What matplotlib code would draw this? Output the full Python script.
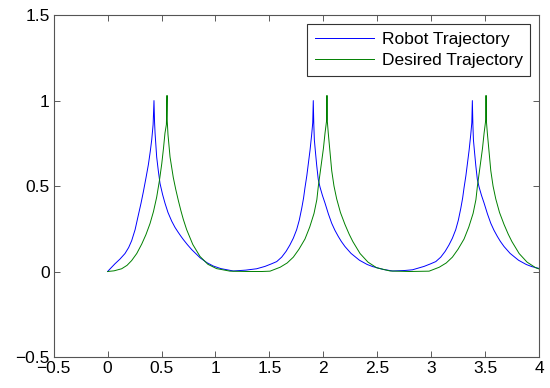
import matplotlib
matplotlib.use("Agg")
import matplotlib.pyplot as plt

plt.rcParams['font.family'] = ['Liberation Sans', 'DejaVu Sans']

# Robot trajectory (blue)
robot_x = [0.000, 0.030, 0.068, 0.115, 0.161, 0.195, 0.223, 0.255, 0.285, 0.310,
           0.331, 0.355, 0.378, 0.395, 0.409, 0.422, 0.430, 0.435, 0.440, 0.455,
           0.470, 0.486, 0.510, 0.532, 0.560, 0.594, 0.625, 0.656, 0.680, 0.702,
           0.740, 0.780, 0.858, 0.920, 0.980, 1.050, 1.166, 1.280, 1.382,
           1.460, 1.520, 1.568, 1.614, 1.655, 1.690, 1.722, 1.753, 1.777, 1.800,
           1.817, 1.830, 1.847, 1.861, 1.877, 1.892, 1.902, 1.907, 1.912, 1.917,
           1.927, 1.939, 1.953, 1.969, 1.992, 2.016, 2.047, 2.078, 2.107, 2.139,
           2.167, 2.201, 2.257, 2.335, 2.407, 2.457, 2.557, 2.643, 2.757, 2.827,
           2.935, 2.995, 3.043, 3.089, 3.130, 3.165, 3.197, 3.228, 3.252, 3.275,
           3.292, 3.305, 3.322, 3.336, 3.352, 3.367, 3.377, 3.382, 3.387, 3.392,
           3.402, 3.414, 3.428, 3.444, 3.467, 3.491, 3.522, 3.553, 3.582, 3.614,
           3.642, 3.676, 3.732, 3.810, 3.882, 3.932, 4.000]
robot_y = [0.000, 0.020, 0.045, 0.073, 0.105, 0.140, 0.180, 0.245, 0.330, 0.400,
           0.465, 0.545, 0.625, 0.700, 0.770, 0.860, 1.000, 0.880, 0.810, 0.670,
           0.590, 0.515, 0.450, 0.400, 0.345, 0.295, 0.258, 0.228, 0.206, 0.187,
           0.157, 0.128, 0.080, 0.052, 0.032, 0.017, 0.003, 0.008, 0.016,
           0.030, 0.045, 0.058, 0.084, 0.118, 0.155, 0.195, 0.245, 0.300, 0.370,
           0.430, 0.490, 0.560, 0.630, 0.710, 0.800, 0.870, 1.000, 0.860, 0.770,
           0.700, 0.620, 0.540, 0.495, 0.445, 0.400, 0.337, 0.282, 0.242, 0.205,
           0.176, 0.146, 0.106, 0.066, 0.041, 0.029, 0.012, 0.003, 0.006, 0.010,
           0.030, 0.045, 0.058, 0.084, 0.118, 0.155, 0.195, 0.245, 0.300, 0.370,
           0.430, 0.490, 0.560, 0.630, 0.710, 0.800, 0.870, 1.000, 0.860, 0.770,
           0.700, 0.620, 0.540, 0.495, 0.445, 0.400, 0.337, 0.282, 0.242, 0.205,
           0.176, 0.146, 0.106, 0.066, 0.041, 0.029, 0.018]

# Desired trajectory (green)
desired_x = [0.000, 0.060, 0.130, 0.180, 0.223, 0.270, 0.316, 0.355, 0.393, 0.425,
             0.455, 0.480, 0.502, 0.518, 0.532, 0.545, 0.551, 0.553, 0.560, 0.579,
             0.609, 0.632, 0.656, 0.680, 0.702, 0.733, 0.790, 0.857, 0.930, 1.010,
             1.135, 1.300, 1.430, 1.506,
             1.600, 1.665, 1.722, 1.774, 1.830, 1.874, 1.914, 1.940, 1.954, 1.969,
             1.985, 2.001, 2.016, 2.032, 2.034, 2.036, 2.046, 2.062, 2.078, 2.099,
             2.124, 2.159, 2.201, 2.240, 2.274, 2.341, 2.414, 2.494, 2.619, 2.800,
             2.981,
             3.075, 3.140, 3.197, 3.249, 3.305, 3.349, 3.389, 3.415, 3.429, 3.444,
             3.460, 3.476, 3.491, 3.507, 3.509, 3.511, 3.521, 3.537, 3.553, 3.574,
             3.599, 3.634, 3.676, 3.715, 3.749, 3.816, 3.889, 3.969, 4.000]
desired_y = [0.000, 0.004, 0.016, 0.036, 0.064, 0.105, 0.160, 0.215, 0.280, 0.350,
             0.435, 0.530, 0.630, 0.720, 0.810, 0.860, 1.030, 0.880, 0.800, 0.670,
             0.550, 0.480, 0.415, 0.355, 0.305, 0.245, 0.158, 0.088, 0.042, 0.017,
             0.002, 0.000, 0.000, 0.002,
             0.025, 0.050, 0.084, 0.130, 0.190, 0.260, 0.340, 0.420, 0.500, 0.570,
             0.645, 0.720, 0.810, 0.890, 1.030, 0.890, 0.810, 0.700, 0.590, 0.500,
             0.425, 0.345, 0.275, 0.218, 0.175, 0.105, 0.055, 0.022, 0.003, 0.000,
             0.002,
             0.025, 0.050, 0.084, 0.130, 0.190, 0.260, 0.340, 0.420, 0.500, 0.570,
             0.645, 0.720, 0.810, 0.890, 1.030, 0.890, 0.810, 0.700, 0.590, 0.500,
             0.425, 0.345, 0.275, 0.218, 0.175, 0.105, 0.055, 0.022, 0.015]

series_labels = ['Robot Trajectory', 'Desired Trajectory']
x_ticks = [-0.5, 0, 0.5, 1, 1.5, 2, 2.5, 3, 3.5, 4]
y_ticks = [-0.5, 0, 0.5, 1, 1.5]
x_tick_labels = ['\u22120.5', '0', '0.5', '1', '1.5', '2', '2.5', '3', '3.5', '4']
y_tick_labels = ['\u22120.5', '0', '0.5', '1', '1.5']

fig = plt.figure(figsize=(5.5, 3.88), dpi=100)
ax = fig.add_axes([0.0976, 0.080, 0.8824, 0.881])

ax.plot(robot_x, robot_y, color='#0000ff', lw=0.7, label=series_labels[0])
ax.plot(desired_x, desired_y, color='#008000', lw=0.7, label=series_labels[1])

ax.set_xlim(-0.5, 4)
ax.set_ylim(-0.5, 1.5)
ax.set_xticks(x_ticks)
ax.set_yticks(y_ticks)
ax.set_xticklabels(x_tick_labels)
ax.set_yticklabels(y_tick_labels)
ax.tick_params(direction='in', top=True, right=True, length=4, width=0.6,
               labelsize=12.5, colors='#404040', labelcolor='black', pad=3)
for s in ax.spines.values():
    s.set_color('#555555')
    s.set_linewidth(0.8)

leg = ax.legend(loc='upper right', fontsize=12.5, frameon=True, fancybox=False,
                framealpha=1, edgecolor='#333333', borderaxespad=0.5,
                handlelength=3.4, handletextpad=0.45, borderpad=0.45,
                labelspacing=0.35)
leg.get_frame().set_linewidth(0.8)

fig.savefig('out.png', dpi=100)
